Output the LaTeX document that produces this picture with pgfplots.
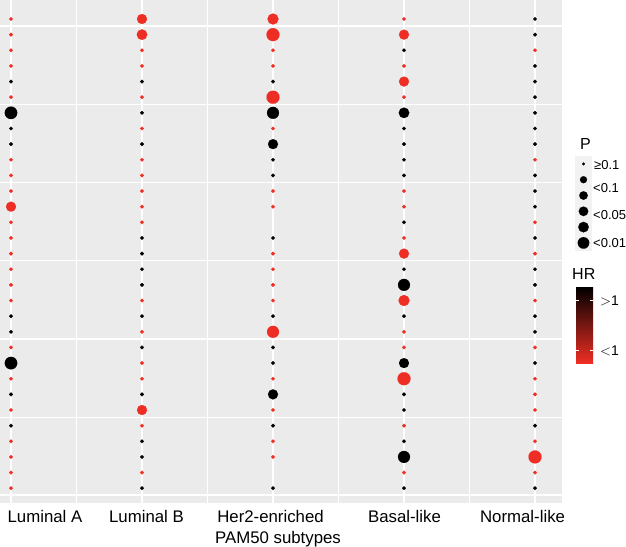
\documentclass[border=0pt]{standalone}
\usepackage{fontspec}
\setmainfont{Liberation Sans}
\usepackage{pgfplots}
\pgfplotsset{compat=1.18}
\usepackage{pgfplotstable}
\definecolor{panel}{HTML}{EBEBEB}
\definecolor{keybg}{HTML}{F2F2F2}
\definecolor{hrred}{HTML}{EE2E24}

\pgfplotsset{
  sizedots/.style={scatter, only marks, mark=*, color=#1,
    mark options={draw=#1, fill=#1, line width=0.1pt},
    visualization depends on={\thisrow{d} \as \dotd},
    scatter/@pre marker code/.code={\pgfmathsetmacro\dotr{\dotd/2}\scope[mark size=\dotr pt, draw=#1, fill=#1, line width=0.1pt]},
    scatter/@post marker code/.code={\endscope}},
}

% x: 0=Luminal A, 1=Luminal B, 2=Her2-enriched, 3=Basal-like, 4=Normal-like
% y: 32 - row (row 1 at top); d: dot diameter
\pgfplotstableread{
x y d
0 31 3.8
0 30 3.8
0 29 3.8
0 28 3.8
0 26 3.8
0 22 3.8
0 21 3.8
0 20 3.8
0 19 10
0 18 3.8
0 17 3.8
0 16 3.8
0 15 3.8
0 14 3.8
0 13 3.8
0 10 3.8
0 8 3.8
0 6 3.8
0 4 3.8
0 3 3.8
0 2 3.8
0 1 3.8
1 31 10
1 30 10.5
1 29 3.8
1 28 3.8
1 26 3.8
1 24 3.8
1 22 3.8
1 21 3.8
1 20 3.8
1 19 3.8
1 18 3.8
1 13 3.8
1 11 3.8
1 9 3.8
1 8 3.8
1 6 10
1 5 3.8
1 2 3.8
2 31 11
2 30 13
2 29 3.8
2 28 3.8
2 26 13
2 24 3.8
2 20 3.8
2 19 3.8
2 16 3.8
2 15 3.8
2 14 3.8
2 13 3.8
2 11 12
2 8 3.8
2 6 3.8
2 4 3.8
2 3 3.8
3 31 3.8
3 30 10
3 28 3.8
3 27 10
3 26 3.8
3 20 3.8
3 19 3.8
3 17 3.8
3 16 10
3 13 11
3 11 3.8
3 10 3.8
3 8 13
3 5 3.8
3 2 3.8
4 29 3.8
4 22 3.8
4 18 3.8
4 16 3.8
4 13 3.8
4 10 3.8
4 8 3.8
4 7 3.8
4 6 3.8
4 4 3.8
4 3 13
4 2 3.8
}\redpts

\pgfplotstableread{
x y d
0 27 3.8
0 25 12.5
0 24 3.8
0 23 3.8
0 12 3.8
0 11 3.8
0 9 12.5
0 7 3.8
0 5 3.8
1 27 3.8
1 25 3.8
1 23 3.8
1 17 3.8
1 16 3.8
1 15 3.8
1 14 3.8
1 12 3.8
1 10 3.8
1 7 3.8
1 4 3.8
1 3 3.8
1 1 3.8
2 27 3.8
2 25 12
2 23 10
2 22 3.8
2 21 3.8
2 17 3.8
2 12 3.8
2 10 3.8
2 9 3.8
2 7 10
2 5 3.8
2 1 3.8
3 29 3.8
3 25 10.5
3 24 3.8
3 23 3.8
3 22 3.8
3 21 3.8
3 18 3.8
3 15 3.8
3 14 12
3 12 3.8
3 9 10
3 7 3.8
3 6 3.8
3 4 3.8
3 3 12
3 1 3.8
4 31 3.8
4 30 3.8
4 28 3.8
4 27 3.8
4 26 3.8
4 25 3.8
4 24 3.8
4 23 3.8
4 21 3.8
4 20 3.8
4 19 3.8
4 17 3.8
4 15 3.8
4 14 3.8
4 12 3.8
4 11 3.8
4 9 3.8
4 5 3.8
4 1 3.8
}\blackpts

\pgfplotstableread{
x y d
0.5 5.5 2.8
0.5 4.5 7
0.5 3.5 8.5
0.5 2.5 9.5
0.5 1.5 10.5
0.5 0.5 11.5
}\keypts

\begin{document}
\begin{tikzpicture}
\path[use as bounding box] (0pt,0pt) rectangle (626pt,-546pt);
\clip (0pt,0pt) rectangle (626pt,-546pt);
\begin{axis}[
  name=main, at={(0pt,0pt)}, anchor=north west,
  scale only axis, width=562pt, height=503pt,
  xmin=-0.08397, xmax=4.2061, ymin=0.054, ymax=32.215,
  axis background/.style={fill=panel},
  axis line style={draw=none},
  major tick length=0pt, minor tick length=0pt,
  xtick={0.2595,1.0344,1.981,3.004,3.905},
  xticklabels={Luminal A, Luminal B, Her2-enriched, Basal-like, Normal-like},
  xticklabel style={font=\fontsize{16.8}{20}\selectfont, anchor=base, inner sep=0pt, yshift=-19pt},
  extra x ticks={0,1,2,3,4}, extra x tick labels={},
  extra x tick style={grid=major},
  minor xtick={0.5,1.5,2.5,3.5},
  xminorgrids=true,
  ytick={0.55,10.55,20.55,30.55}, minor ytick={5.55,15.55,25.55},
  yticklabels={},
  ymajorgrids=true, yminorgrids=true,
  major grid style={white, line width=1.6pt},
  minor grid style={white, line width=0.8pt},
  xlabel={PAM50 subtypes},
  xlabel style={font=\fontsize{16.8}{20}\selectfont, at={(axis description cs:0.4947,0)}, anchor=base, inner sep=0pt, yshift=-40pt},
]
\addplot[sizedots=hrred] table[x=x, y=y] {\redpts};
\addplot[sizedots=black] table[x=x, y=y] {\blackpts};
\end{axis}

% P legend
\node[anchor=base west, inner sep=0pt, font=\fontsize{16}{18}\selectfont] at (580pt,-149pt) {P};
\foreach \i in {0,...,5} {
  \fill[keybg] (575pt,{-156pt-\i*15.8pt}) rectangle ++(17pt,-15.8pt);
}
\begin{axis}[
  at={(575pt,-156pt)}, anchor=north west,
  scale only axis, width=17pt, height=94.8pt,
  xmin=0, xmax=1, ymin=0, ymax=6, hide axis, clip=false]
\addplot[sizedots=black] table[x=x, y=y] {\keypts};
\end{axis}
\begin{scope}[every node/.style={anchor=base west, inner sep=0pt, font=\fontsize{13}{15}\selectfont}]
\node at (594pt,-169.5pt) {≥0.1};
\node at (593pt,-192.5pt) {<0.1};
\node at (593pt,-219.5pt) {<0.05};
\node at (593pt,-247.5pt) {<0.01};
\end{scope}

% HR colour bar
\node[anchor=base west, inner sep=0pt, font=\fontsize{16}{18}\selectfont] at (572pt,-279pt) {HR};
\shade[top color=black, bottom color=hrred] (576pt,-287pt) rectangle (593pt,-363pt);
\draw[white, line width=0.6pt] (576pt,-300pt) -- ++(3.4pt,0) (593pt,-300pt) -- ++(-3.4pt,0)
  (576pt,-350pt) -- ++(3.4pt,0) (593pt,-350pt) -- ++(-3.4pt,0);
\node[anchor=base west, inner sep=0pt, font=\fontsize{14}{16}\selectfont] at (600pt,-305pt) {$>$1};
\node[anchor=base west, inner sep=0pt, font=\fontsize{14}{16}\selectfont] at (600pt,-355pt) {$<$1};
\end{tikzpicture}
\end{document}
